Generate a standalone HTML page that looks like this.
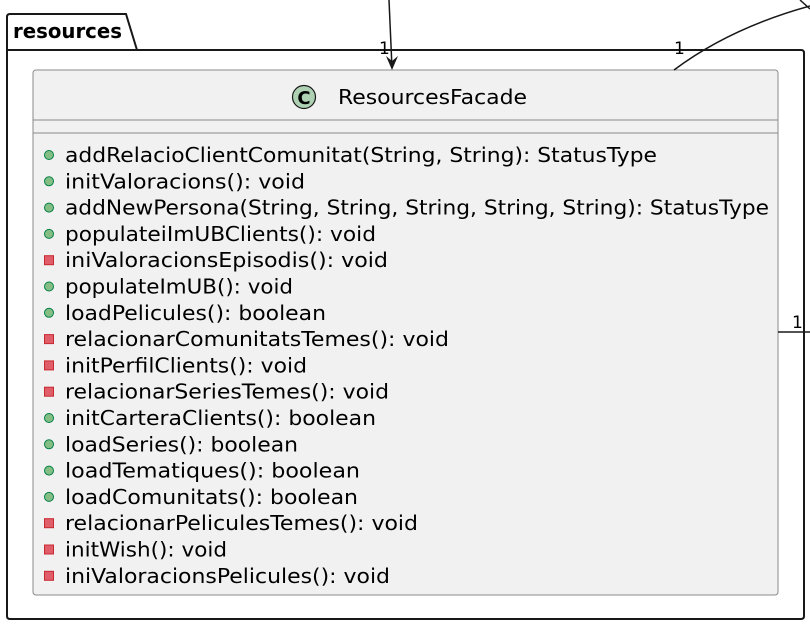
<!DOCTYPE html>
<html><head><meta charset="utf-8"><style>html,body{margin:0;padding:0;background:#fff}svg{display:block}</style></head>
<body>
<svg width="810" height="636" viewBox="0 0 810 636" xmlns="http://www.w3.org/2000/svg" font-family="'DejaVu Sans', 'Liberation Sans', sans-serif">
<rect width="810" height="636" fill="#fff"/>
<path d="M7,50 L7,17 Q7,14 10,14 L126,14 L137,50" fill="none" stroke="#181818" stroke-width="2"/>
<path d="M7,50 L801,50 Q804,50 804,53 L804,616 Q804,619 801,619 L10,619 Q7,619 7,616 Z" fill="none" stroke="#181818" stroke-width="2"/>
<text x="13" y="38" font-size="20" font-weight="bold" fill="#000" textLength="109" lengthAdjust="spacingAndGlyphs">resources</text>
<rect x="33" y="70" width="745" height="525" rx="3" fill="#f1f1f1" stroke="#8a8a8a" stroke-width="1"/>
<line x1="33" y1="120" x2="778" y2="120" stroke="#8a8a8a" stroke-width="1"/>
<line x1="33" y1="133" x2="778" y2="133" stroke="#8a8a8a" stroke-width="1"/>
<circle cx="304" cy="97" r="11.5" fill="#add1b2" stroke="#181818" stroke-width="1.2"/>
<text x="304" y="104" font-size="18" font-weight="bold" text-anchor="middle" fill="#000">C</text>
<text x="338" y="104" font-size="20" fill="#000" textLength="189" lengthAdjust="spacingAndGlyphs">ResourcesFacade</text>
<line x1="389" y1="0" x2="392" y2="68" stroke="#181818" stroke-width="1.5"/>
<path d="M386,56 L392,70 L398,56 L392,61 Z" fill="#181818"/>
<text x="379" y="54" font-size="17" fill="#000">1</text>
<path d="M674,70 Q730,28 810,6" fill="none" stroke="#181818" stroke-width="1.5"/>
<line x1="800" y1="0" x2="810" y2="9" stroke="#181818" stroke-width="1.5"/>
<text x="674" y="54" font-size="17" fill="#000">1</text>
<line x1="778" y1="332" x2="810" y2="332" stroke="#181818" stroke-width="1.5"/>
<text x="792" y="328" font-size="17" fill="#000">1</text>
<g fill="#84be84" stroke="#038048" stroke-width="1">
<circle cx="49" cy="155" r="4.5"/>
<circle cx="49" cy="181.3" r="4.5"/>
<circle cx="49" cy="207.6" r="4.5"/>
<circle cx="49" cy="233.9" r="4.5"/>
<circle cx="49" cy="286.5" r="4.5"/>
<circle cx="49" cy="312.8" r="4.5"/>
<circle cx="49" cy="418" r="4.5"/>
<circle cx="49" cy="444.3" r="4.5"/>
<circle cx="49" cy="470.6" r="4.5"/>
<circle cx="49" cy="496.9" r="4.5"/>
</g>
<g fill="#e05d6a" stroke="#c82930" stroke-width="1">
<rect x="44.5" y="255.7" width="9" height="9"/>
<rect x="44.5" y="334.6" width="9" height="9"/>
<rect x="44.5" y="360.9" width="9" height="9"/>
<rect x="44.5" y="387.2" width="9" height="9"/>
<rect x="44.5" y="518.7" width="9" height="9"/>
<rect x="44.5" y="545" width="9" height="9"/>
<rect x="44.5" y="571.3" width="9" height="9"/>
</g>
<g font-size="20" fill="#000">
<text x="65" y="162" textLength="592" lengthAdjust="spacingAndGlyphs">addRelacioClientComunitat(String, String): StatusType</text>
<text x="65" y="188.3" textLength="240" lengthAdjust="spacingAndGlyphs">initValoracions(): void</text>
<text x="65" y="214.6" textLength="704" lengthAdjust="spacingAndGlyphs">addNewPersona(String, String, String, String, String): StatusType</text>
<text x="65" y="240.9" textLength="311" lengthAdjust="spacingAndGlyphs">populateiImUBClients(): void</text>
<text x="65" y="267.2" textLength="323" lengthAdjust="spacingAndGlyphs">iniValoracionsEpisodis(): void</text>
<text x="65" y="293.5" textLength="228" lengthAdjust="spacingAndGlyphs">populateImUB(): void</text>
<text x="65" y="319.8" textLength="261" lengthAdjust="spacingAndGlyphs">loadPelicules(): boolean</text>
<text x="65" y="346.1" textLength="384" lengthAdjust="spacingAndGlyphs">relacionarComunitatsTemes(): void</text>
<text x="65" y="372.4" textLength="242" lengthAdjust="spacingAndGlyphs">initPerfilClients(): void</text>
<text x="65" y="398.7" textLength="324" lengthAdjust="spacingAndGlyphs">relacionarSeriesTemes(): void</text>
<text x="65" y="425" textLength="311" lengthAdjust="spacingAndGlyphs">initCarteraClients(): boolean</text>
<text x="65" y="451.3" textLength="233" lengthAdjust="spacingAndGlyphs">loadSeries(): boolean</text>
<text x="65" y="477.6" textLength="295" lengthAdjust="spacingAndGlyphs">loadTematiques(): boolean</text>
<text x="65" y="503.9" textLength="293" lengthAdjust="spacingAndGlyphs">loadComunitats(): boolean</text>
<text x="65" y="530.2" textLength="353" lengthAdjust="spacingAndGlyphs">relacionarPeliculesTemes(): void</text>
<text x="65" y="556.5" textLength="162" lengthAdjust="spacingAndGlyphs">initWish(): void</text>
<text x="65" y="582.8" textLength="325" lengthAdjust="spacingAndGlyphs">iniValoracionsPelicules(): void</text>
</g>
</svg>
</body></html>
